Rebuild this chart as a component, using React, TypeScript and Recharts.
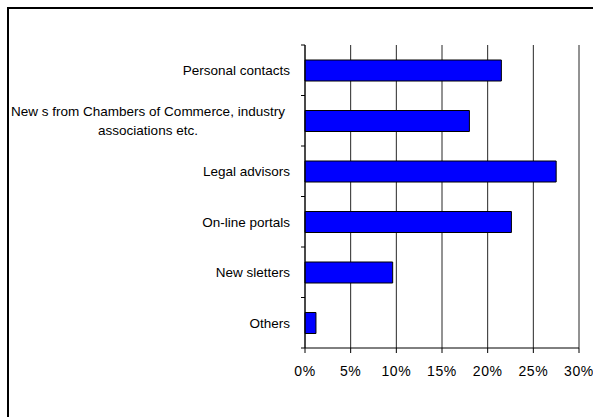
import React from "react";
import { BarChart, Bar, XAxis, YAxis, CartesianGrid } from "recharts";

const categories = [
  "Personal contacts",
  "New s from Chambers of Commerce, industry\nassociations etc.",
  "Legal advisors",
  "On-line portals",
  "New sletters",
  "Others",
];
const values = [21.5, 18, 27.5, 22.6, 9.6, 1.2];
const xTicks = [0, 5, 10, 15, 20, 25, 30];

const data = categories.map((name, i) => ({ name, value: values[i] }));

const W = 593;
const H = 417;
const FONT = 'Arial, "Liberation Sans", sans-serif';

const CategoryTick = (props: any) => {
  const { x, y, payload, index } = props;
  const half = payload && payload.offset ? payload.offset : 25.25;
  const lines = String(payload.value).split("\n");
  const isLast = index === categories.length - 1;
  return (
    <g>
      <line x1={x - 4} x2={x} y1={y - half} y2={y - half} stroke="#000" />
      {isLast && <line x1={x - 4} x2={x} y1={y + half} y2={y + half} stroke="#000" />}
      {lines.length > 1 ? (
        lines.map((l, i) => (
          <text
            key={i}
            x={x - 157}
            y={y + (i - (lines.length - 1) / 2) * 19}
            dy="0.355em"
            textAnchor="middle"
            fill="#000"
            fontSize={13.5}
            fontFamily={FONT}
          >
            {l}
          </text>
        ))
      ) : (
        <text x={x - 15} y={y} dy="0.355em" textAnchor="end" fill="#000" fontSize={13.5} fontFamily={FONT}>
          {lines[0]}
        </text>
      )}
    </g>
  );
};

export default function App() {
  return (
    <div
      style={{
        position: "absolute",
        left: 0,
        top: 0,
        width: W,
        height: H,
        overflow: "hidden",
        background: "#fff",
        fontFamily: FONT,
      }}
    >
      <div
        style={{
          position: "absolute",
          left: 7,
          top: 7,
          width: 620,
          height: 440,
          border: "2px solid #000",
        }}
      />
      <div style={{ position: "absolute", left: 0, top: 0 }}>
        <BarChart
          width={W}
          height={H}
          data={data}
          layout="vertical"
          margin={{ top: 45, right: 14, bottom: 39, left: 0 }}
        >
          <CartesianGrid horizontal={false} vertical={true} stroke="#000" strokeOpacity={0.85} />
          <XAxis
            type="number"
            domain={[0, 30]}
            ticks={xTicks}
            tickFormatter={(v: number) => `${v}%`}
            stroke="#000"
            tickSize={5}
            tickMargin={13}
            height={30}
            interval={0}
            tick={{ fill: "#000", fontSize: 14, fontFamily: FONT, letterSpacing: 0.6 }}
          />
          <YAxis
            type="category"
            dataKey="name"
            width={305}
            stroke="#000"
            tickLine={false}
            tickSize={0}
            tickMargin={0}
            interval={0}
            tick={<CategoryTick />}
          />
          <Bar
            dataKey="value"
            fill="#0000FF"
            stroke="#000"
            strokeWidth={1}
            barSize={21}
            isAnimationActive={false}
          />
        </BarChart>
      </div>
    </div>
  );
}
